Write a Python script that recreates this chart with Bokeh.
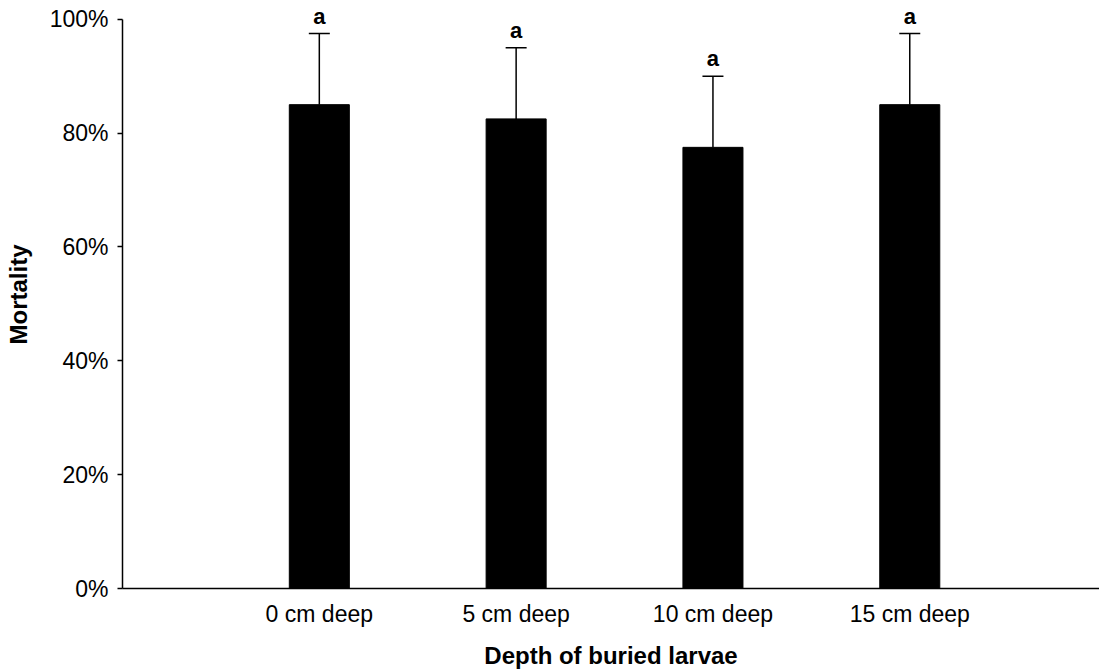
from bokeh.plotting import figure
from bokeh.models import ColumnDataSource, Range1d, FixedTicker, Whisker, TeeHead
from bokeh.core.properties import value
from bokeh.embed import file_html
from bokeh.resources import INLINE

# ---- data ----
categories = ["0 cm deep", "5 cm deep", "10 cm deep", "15 cm deep"]
mortality = [85.0, 82.5, 77.5, 85.0]          # percent
error = [12.5, 12.5, 12.5, 12.5]              # percent (upper error bar)
letters = ["a", "a", "a", "a"]
y_ticks = [0, 20, 40, 60, 80, 100]
y_tick_labels = ["0%", "20%", "40%", "60%", "80%", "100%"]

positions = list(range(1, len(categories) + 1))
upper = [m + e for m, e in zip(mortality, error)]

src = ColumnDataSource(dict(x=positions, top=mortality, upper=upper, lower=mortality, lab=letters))

FONT = "Liberation Sans"

p = figure(width=1099, height=671, output_backend="svg", toolbar_location=None,
           x_range=Range1d(0, 4.964), y_range=Range1d(0, 103.3),
           min_border_left=122, min_border_top=0, min_border_right=0, min_border_bottom=10)
p.outline_line_color = None
p.xgrid.visible = False
p.ygrid.visible = False
p.background_fill_color = "white"
p.border_fill_color = "white"

p.vbar(x="x", top="top", bottom=0, width=0.305, source=src, fill_color="black", line_color="black")

wh = Whisker(source=src, base="x", upper="upper", lower="lower",
             upper_head=TeeHead(size=21, line_width=1.5, line_color="black"),
             lower_head=None, line_width=1.5, line_color="black")
p.add_layout(wh)

p.text(x="x", y="upper", text="lab", source=src, text_align="center", text_baseline="bottom",
       y_offset=-5, text_font_size="22px", text_font_style="bold", text_font=value(FONT),
       text_color="black")

# y axis
p.yaxis.ticker = FixedTicker(ticks=y_ticks)
p.yaxis.bounds = (0, 100)
p.yaxis.major_label_overrides = {t: l for t, l in zip(y_ticks, y_tick_labels)}
p.yaxis.minor_tick_line_color = None
p.yaxis.major_tick_in = 0
p.yaxis.major_tick_out = 5
p.yaxis.major_tick_line_width = 1.5
p.yaxis.axis_line_width = 1.5
p.yaxis.major_label_standoff = 9
p.yaxis.major_label_text_font = FONT
p.yaxis.major_label_text_font_size = "23px"
p.yaxis.major_label_text_color = "black"
p.yaxis.axis_label = "Mortality"
p.yaxis.axis_label_text_font = FONT
p.yaxis.axis_label_text_font_size = "24px"
p.yaxis.axis_label_text_font_style = "bold"
p.yaxis.axis_label_text_color = "black"
p.yaxis.axis_label_standoff = 15

# x axis
p.xaxis.ticker = FixedTicker(ticks=positions)
p.xaxis.major_label_overrides = {t: c for t, c in zip(positions, categories)}
p.xaxis.minor_tick_line_color = None
p.xaxis.major_tick_line_color = None
p.xaxis.major_tick_in = 0
p.xaxis.major_tick_out = 0
p.xaxis.axis_line_width = 1.5
p.xaxis.major_label_standoff = 12
p.xaxis.major_label_text_font = FONT
p.xaxis.major_label_text_font_size = "23px"
p.xaxis.major_label_text_color = "black"
p.xaxis.axis_label = "Depth of buried larvae"
p.xaxis.axis_label_text_font = FONT
p.xaxis.axis_label_text_font_size = "24px"
p.xaxis.axis_label_text_font_style = "bold"
p.xaxis.axis_label_text_color = "black"
p.xaxis.axis_label_standoff = 12

open("out.html", "w").write(file_html(p, INLINE))
